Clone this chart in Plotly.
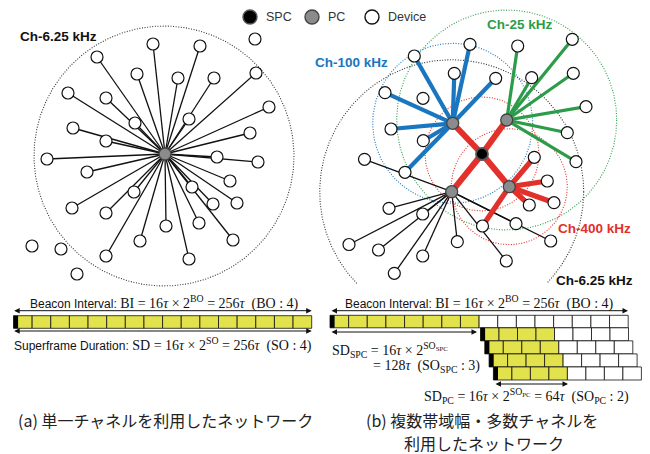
import numpy as np
import plotly.graph_objects as go

SANS = "Liberation Sans"
SERIF = "Liberation Serif"
CJK = "Noto Sans CJK JP"

BLUE = "#1a76bf"
GREEN = "#2d9c4a"
RED = "#e2302b"
BLACK = "#111111"
YELLOW = "#e2e24c"
PC_GRAY = "#8a8b8d"

# ---------------- (a) single-channel star network (pixel space) ----------------
hub_a = (165, 154)
dev_a_x = [153, 200, 255, 97, 137, 178, 214, 256, 68, 106, 269, 135, 189, 73, 106, 250, 47, 217,
           258, 87, 230, 192, 134, 72, 213, 237, 106, 166, 199, 140, 233, 106, 189, 32, 61, 77]
dev_a_y = [44, 46, 39, 57, 74, 78, 78, 73, 93, 98, 107, 123, 119, 128, 141, 133, 159, 157,
           162, 172, 181, 187, 192, 208, 204, 203, 213, 226, 223, 241, 240, 256, 259, 246, 249, 274]
dev_a_link = [1, 1, 0, 1, 1, 1, 1, 1, 1, 1, 1, 1, 1, 1, 1, 1, 1, 1,
              1, 1, 1, 1, 1, 1, 1, 1, 1, 1, 1, 1, 1, 1, 1, 0, 0, 0]
ring_a = (164, 156, 130)

# ---------------- (b) multi-bandwidth / multi-channel network ----------------
spc_b = (482, 154)
spc_ring_r = 57
pc_labels = ["Ch-100 kHz", "Ch-25 kHz", "Ch-6.25 kHz", "Ch-400 kHz"]
pc_x = [452.7, 506.7, 451.7, 509.3]
pc_y = [123.3, 120.0, 191.7, 186.7]
pc_colors = [BLUE, GREEN, BLACK, RED]
pc_link_w = [4.2, 3.2, 1.3, 5.2]
pc_ring_r = [80, 110, 132, 58]

dev_b_x = [470, 414.3, 454.3, 495.7, 385, 391, 423.3, 405, 423,
           517.7, 572.3, 531.7, 573.3, 586, 567.3, 576,
           534.3, 547.3, 529.3, 554, 482.5,
           364.5, 389, 422.7, 349, 378.5, 422.7, 394.3, 457.3, 506.3, 550.7, 516]
dev_b_y = [44.3, 56, 73.3, 78.3, 92.7, 129, 140.7, 172.3, 98.3,
           46, 39.3, 77.7, 73.3, 106.7, 132.7, 161.7,
           157.3, 181, 205, 202.7, 226,
           159.3, 208.3, 214, 244.5, 250, 256, 273.3, 241.7, 261, 241, 223.7]
dev_b_pc = [0, 0, 0, 0, 0, 0, 0, 0, -1,
            1, 1, 1, 1, 1, 1, 1,
            3, 3, 3, 3, 3,
            2, 2, 2, 2, 2, 2, 2, 2, 2, 2, 2]

# ---------------- superframe timelines ----------------
bi_slots = 16          # BI = 256 tau, 16 tau per slot
sd_a_active = 16       # SO = 4
spc_active = 8         # SO_SPC = 3
pc_slots = 8
pc_active = [4, 4, 4, 4]  # SO_PC = 2

fig = go.Figure()


def add_ring(cx, cy, r, color, ymax=None):
    t = np.linspace(0, 2 * np.pi, 721)
    x = cx + r * np.cos(t)
    y = cy + r * np.sin(t)
    if ymax is not None:
        cut = y > ymax
        x[cut] = np.nan
        y[cut] = np.nan
    fig.add_trace(go.Scatter(x=x, y=y, mode="lines", hoverinfo="skip",
                             line=dict(color=color, width=1.1, dash="1px,1.6px")))


def add_spokes(cx, cy, xs, ys, color, width):
    X, Y = [], []
    for x, y in zip(xs, ys):
        X += [cx, x, None]
        Y += [cy, y, None]
    fig.add_trace(go.Scatter(x=X, y=Y, mode="lines", hoverinfo="skip",
                             line=dict(color=color, width=width)))


def add_nodes(xs, ys, fill, size, edge="#111111", ew=1.2):
    fig.add_trace(go.Scatter(x=list(xs), y=list(ys), mode="markers", hoverinfo="skip",
                             marker=dict(size=size, color=fill, line=dict(color=edge, width=ew))))


# --- panel (a)
add_ring(*ring_a, "#333333")
lx = [x for x, k in zip(dev_a_x, dev_a_link) if k]
ly = [y for y, k in zip(dev_a_y, dev_a_link) if k]
add_spokes(hub_a[0], hub_a[1], lx, ly, BLACK, 1.3)
add_nodes(dev_a_x, dev_a_y, "white", 12)
add_nodes([hub_a[0]], [hub_a[1]], PC_GRAY, 12, "#444444", 1.3)

# --- panel (b) coverage rings
add_ring(pc_x[2], pc_y[2], pc_ring_r[2], "#333333", ymax=284)
add_ring(pc_x[1], pc_y[1], pc_ring_r[1], GREEN)
add_ring(pc_x[0], pc_y[0], pc_ring_r[0], BLUE)
add_ring(spc_b[0], spc_b[1], spc_ring_r, RED)
add_ring(pc_x[3], pc_y[3], pc_ring_r[3], RED)

# --- panel (b) links: thin 6.25 kHz first, then wider channels
for k in [2, 0, 1, 3]:
    xs = [x for x, p in zip(dev_b_x, dev_b_pc) if p == k]
    ys = [y for y, p in zip(dev_b_y, dev_b_pc) if p == k]
    add_spokes(pc_x[k], pc_y[k], xs, ys, pc_colors[k], pc_link_w[k])
add_spokes(spc_b[0], spc_b[1], pc_x, pc_y, RED, 6)

add_nodes(dev_b_x, dev_b_y, "white", 12)
add_nodes(pc_x, pc_y, PC_GRAY, 12, "#444444", 1.3)
add_nodes([spc_b[0]], [spc_b[1]], "#000000", 12, "#555555", 1.8)

# --- legend row
leg_names = ["SPC", "PC", "Device"]
leg_x = [250, 312, 372]
leg_fill = ["#000000", PC_GRAY, "white"]
leg_edge = ["#555555", "#444444", "#111111"]
for nm, x, f, e in zip(leg_names, leg_x, leg_fill, leg_edge):
    add_nodes([x], [17], f, 14, e, 1.4)

annotations = []
for nm, x in zip(leg_names, leg_x):
    annotations.append(dict(x=x + 14, y=17, text=nm, xanchor="left", yanchor="middle",
                            font=dict(family=SANS, size=12.5, color="#333333")))

# --- channel labels
ch_labels = [("Ch-6.25 kHz", 58.5, 36, BLACK), ("Ch-100 kHz", 351, 62, BLUE),
             ("Ch-25 kHz", 519.5, 24, GREEN), ("Ch-400 kHz", 594, 228, RED),
             ("Ch-6.25 kHz", 594, 280, BLACK)]
for txt, x, y, c in ch_labels:
    annotations.append(dict(x=x, y=y, text=f"<b>{txt}</b>", xanchor="center", yanchor="middle",
                            font=dict(family=SANS, size=13.5, color=c)))

# --- timelines
shapes = []


def slot_bar(x0, y0, y1, w, n, n_active):
    for i in range(n):
        shapes.append(dict(type="rect", xref="x", yref="y", x0=x0 + i * w, x1=x0 + (i + 1) * w,
                           y0=y0, y1=y1, fillcolor=YELLOW if i < n_active else "white",
                           line=dict(color="#111111", width=0.8), layer="above"))
    shapes.append(dict(type="rect", xref="x", yref="y", x0=x0, x1=x0 + 4.6, y0=y0, y1=y1,
                       fillcolor="#000000", line=dict(width=0), layer="above"))


slot_w = (311.7 - 13.5) / bi_slots
slot_bar(13.5, 315.7, 328.3, slot_w, bi_slots, sd_a_active)
slot_bar(330, 315.3, 327.8, slot_w, bi_slots, spc_active)
for i, act in enumerate(pc_active):
    slot_bar(480.5 + 4.3 * i, 327.8 + 13.05 * i, 327.8 + 13.05 * (i + 1), 18.5, pc_slots, act)


def darrow(x0, x1, y):
    annotations.append(dict(x=x1, y=y, ax=x0, ay=y, xref="x", yref="y", axref="x", ayref="y",
                            text="", showarrow=True, arrowhead=2, startarrowhead=2,
                            arrowside="end+start", arrowsize=1.1, startarrowsize=1.1,
                            arrowwidth=1, arrowcolor="#111111"))


darrow(12.7, 311.7, 310.7)
darrow(12.7, 311.7, 331)
darrow(330, 628, 310.7)
darrow(330, 477, 332)
darrow(494, 568, 384)


def sans(s):
    return f'<span style="font-family:{SANS};font-size:12px">{s}</span>'


TAU = "<i>τ</i>"
eq_font = dict(family=SERIF, size=14, color="#111111")
annotations += [
    dict(x=164, y=302, text=sans("Beacon Interval:") + f" BI = 16{TAU} × 2<sup>BO</sup> = 256{TAU}  (BO : 4)",
         xanchor="center", yanchor="middle", font=eq_font),
    dict(x=162.5, y=344, text=sans("Superframe Duration:") + f" SD = 16{TAU} × 2<sup>SO</sup> = 256{TAU}  (SO : 4)",
         xanchor="center", yanchor="middle", font=eq_font),
    dict(x=479.5, y=302, text=sans("Beacon Interval:") + f" BI = 16{TAU} × 2<sup>BO</sup> = 256{TAU}  (BO : 4)",
         xanchor="center", yanchor="middle", font=eq_font),
    dict(x=330, y=350, text=f"SD<sub>SPC</sub> = 16{TAU} × 2<sup>SO<sub>SPC</sub></sup>",
         xanchor="left", yanchor="middle", font=eq_font),
    dict(x=371, y=366, text=f"= 128{TAU}  (SO<sub>SPC</sub> : 3)",
         xanchor="left", yanchor="middle", font=eq_font),
    dict(x=526, y=396, text=f"SD<sub>PC</sub> = 16{TAU} × 2<sup>SO<sub>PC</sub></sup> = 64{TAU}  (SO<sub>PC</sub> : 2)",
         xanchor="center", yanchor="middle", font=eq_font),
]

cap_font = dict(family=CJK, size=16, color="#222222")
annotations += [
    dict(x=165, y=420, text="(a) 単一チャネルを利用したネットワーク", xanchor="center", yanchor="middle", font=cap_font),
    dict(x=482, y=420, text="(b) 複数帯域幅・多数チャネルを", xanchor="center", yanchor="middle", font=cap_font),
    dict(x=484, y=443, text="利用したネットワーク", xanchor="center", yanchor="middle", font=cap_font,
         borderpad=0),
]

for a in annotations:
    a.setdefault("xref", "x")
    a.setdefault("yref", "y")
    a.setdefault("showarrow", False)

fig.update_layout(
    width=650, height=454, margin=dict(l=0, r=0, t=0, b=0),
    paper_bgcolor="white", plot_bgcolor="white", showlegend=False,
    xaxis=dict(range=[0, 650], visible=False, fixedrange=True),
    yaxis=dict(range=[454, 0], visible=False, fixedrange=True),
    shapes=shapes, annotations=annotations,
)

fig.write_html("out.html")
